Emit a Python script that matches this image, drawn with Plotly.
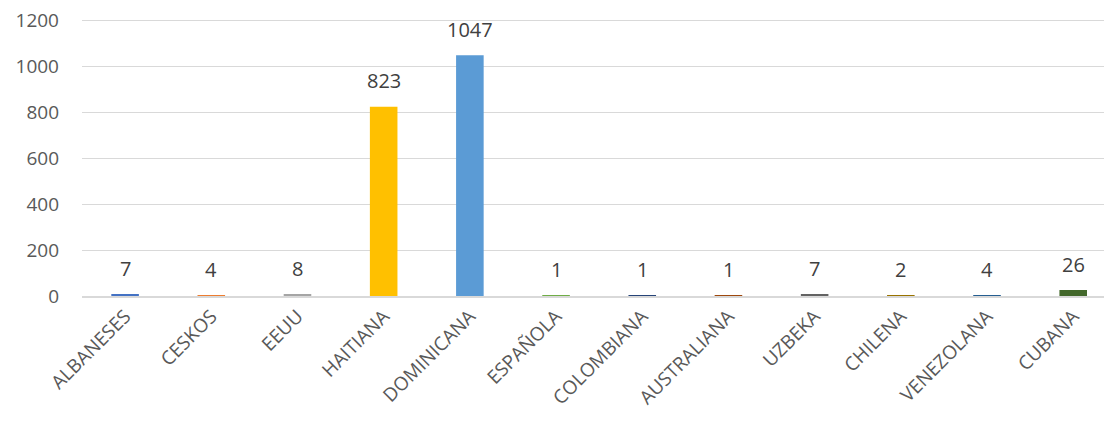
import plotly.graph_objects as go

categories = ["ALBANESES", "CESKOS", "EEUU", "HAITIANA", "DOMINICANA", "ESPAÑOLA",
              "COLOMBIANA", "AUSTRALIANA", "UZBEKA", "CHILENA", "VENEZOLANA", "CUBANA"]
values = [7, 4, 8, 823, 1047, 1, 1, 1, 7, 2, 4, 26]
colors = ["#4472C4", "#ED7D31", "#A5A5A5", "#FFC000", "#5B9BD5", "#70AD47",
          "#264478", "#9E480E", "#636363", "#997300", "#255E91", "#43682B"]
y_ticks = [0, 200, 400, 600, 800, 1000, 1200]

FONT = "Open Sans, Liberation Sans, sans-serif"

fig = go.Figure(go.Bar(x=categories, y=values, marker_color=colors,
                       marker_line_width=0, hoverinfo="x+y"))
for c, v in zip(categories, values):
    fig.add_annotation(x=c, y=v, text=str(v), showarrow=False,
                       yanchor="middle", yshift=26,
                       font=dict(family=FONT, size=20, color="#404040"))

# page body has an 8px default margin, so the figure is sized to fit inside it
fig.update_layout(
    width=1104, height=416,
    margin=dict(l=74, r=0, t=4, b=128),
    paper_bgcolor="white", plot_bgcolor="white",
    font=dict(family=FONT, color="#595959"),
    bargap=0.68, showlegend=False,
)
# the original plot area runs slightly past the right edge of the picture
fig.update_xaxes(tickangle=-45, tickfont=dict(size=19, color="#595959"),
                 range=[-0.5, 11.45],
                 showline=True, linecolor="#d9d9d9", linewidth=1.5,
                 ticks="", showgrid=False, automargin=False)
fig.update_yaxes(range=[0, 1235], tickvals=y_ticks, showgrid=True,
                 gridcolor="#d9d9d9", gridwidth=1, zeroline=False,
                 tickfont=dict(size=19, color="#595959"), ticklabelstandoff=22,
                 ticklabeloverflow="allow", automargin=False)
fig.write_html("out.html")
